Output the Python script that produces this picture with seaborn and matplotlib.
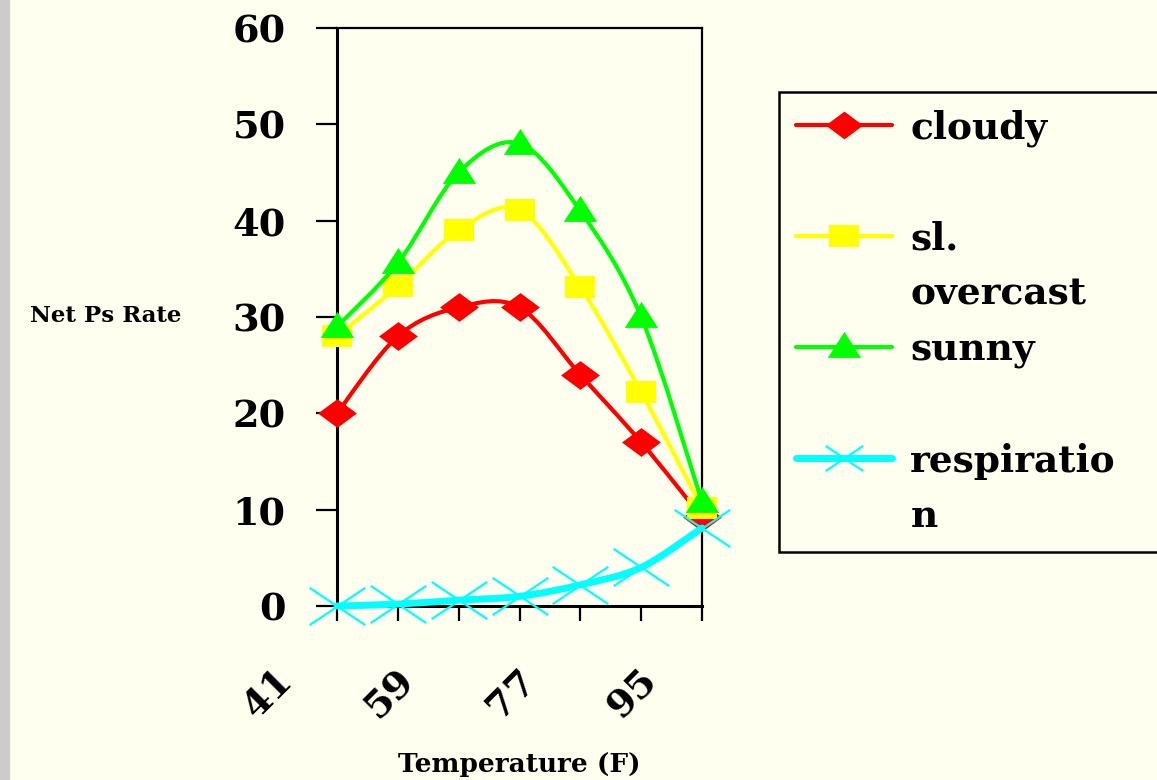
import numpy as np
import pandas as pd
import matplotlib
matplotlib.use('Agg')
import matplotlib.pyplot as plt
import seaborn as sns
from matplotlib.path import Path
from matplotlib.patches import PathPatch, Rectangle
from matplotlib.lines import Line2D
from matplotlib.transforms import ScaledTranslation

# data
temps = [41, 50, 59, 68, 77, 86, 95]
cloudy = [20, 28, 31, 31, 24, 17, 9.2]
overcast = [28, 33.2, 39, 41.1, 33.1, 22.2, 10.2]
sunny = [29, 35.6, 45, 48, 41, 30, 10.8]
respiration = [0, 0.2, 0.6, 1.0, 2.2, 4.0, 8.1]
series_labels = ['cloudy', 'sl.\novercast', 'sunny', 'respiratio\nn']

BG = '#FFFFF0'
sns.set_style('white')
plt.rcParams['font.family'] = ['DejaVu Serif']
plt.rcParams['font.weight'] = 'bold'
for key in ['text.color', 'axes.labelcolor', 'xtick.color', 'ytick.color']:
    plt.rcParams[key] = 'black'

# marker shapes (the original is stretched sideways)
diamond = Path([(0, 1), (1.35, 0), (0, -1), (-1.35, 0), (0, 1)], closed=True)
square = Path([(-1.36, -1), (1.36, -1), (1.36, 1), (-1.36, 1), (-1.36, -1)], closed=True)
triangle = Path([(-1.28, -0.8), (1.28, -0.8), (0, 1.2), (-1.28, -0.8)], closed=True)
cross = Path([(-1, -0.67), (1, 0.67), (-1, 0.67), (1, -0.67)],
             [Path.MOVETO, Path.LINETO, Path.MOVETO, Path.LINETO])

styles = [
    dict(color='#FF0000', marker=diamond, ms=28, lw=3.0, mfc='#FF0000', leg_ms=27),
    dict(color='#FFFF00', marker=square, ms=22, lw=3.0, mfc='#FFFF00', leg_ms=22),
    dict(color='#00FF00', marker=triangle, ms=24, lw=3.0, mfc='#00FF00', leg_ms=24),
    dict(color='#00FFFF', marker=cross, ms=40, lw=5.0, mfc='none', leg_ms=27),
]
all_series = [cloudy, overcast, sunny, respiration]


def smooth_path(xs, ys):
    pts = np.column_stack([xs, ys]).astype(float)
    n = len(pts)
    verts = [pts[0]]
    codes = [Path.MOVETO]
    for i in range(n - 1):
        p0 = pts[max(i - 1, 0)]
        p1 = pts[i]
        p2 = pts[i + 1]
        p3 = pts[min(i + 2, n - 1)]
        verts += [p1 + (p2 - p0) / 6, p2 - (p3 - p1) / 6, p2]
        codes += [Path.CURVE4] * 3
    return Path(verts, codes)


fig = plt.figure(figsize=(11.57, 7.80), dpi=100, facecolor=BG)
ax = fig.add_axes([337 / 1157, 1 - 606 / 780, 365 / 1157, 578 / 780])
ax.set_facecolor(BG)
fig.patches.append(Rectangle((0, 0), 9 / 1157, 1, transform=fig.transFigure,
                             color='#CCCCCC', zorder=0))

xpos = list(range(len(temps)))
for k, (vals, st) in enumerate(zip(all_series, styles)):
    ax.add_patch(PathPatch(smooth_path(xpos, vals), facecolor='none',
                           edgecolor=st['color'], lw=st['lw'],
                           capstyle='round', joinstyle='round',
                           zorder=3 + 2 * k, clip_on=False))
    sns.lineplot(x=xpos, y=vals, ax=ax, linestyle='none', marker=st['marker'],
                 markersize=st['ms'], markerfacecolor=st['mfc'],
                 markeredgecolor=st['color'],
                 markeredgewidth=1.6 if k == 3 else 0,
                 clip_on=False, zorder=4 + 2 * k)

ax.set_xlim(0, len(temps) - 1)
ax.set_ylim(0, 60)
ax.set_yticks(range(0, 61, 10))
ax.set_xticks(xpos)
ax.set_xticklabels([str(t) if i % 2 == 0 else '' for i, t in enumerate(temps)],
                   rotation=45, ha='right', va='top')
ax.tick_params(axis='y', direction='out', length=15, width=1.6, pad=22,
               labelsize=27.5, left=True)
ax.tick_params(axis='x', direction='out', length=11, width=1.6, pad=29,
               labelsize=27.5, bottom=True)
for lab in ax.get_xticklabels():
    lab.set_transform(lab.get_transform() +
                      ScaledTranslation(-0.37, 0, fig.dpi_scale_trans))

for side in ['left', 'bottom']:
    ax.spines[side].set_linewidth(2.2)
for side in ['top', 'right']:
    ax.spines[side].set_linewidth(1.6)
for sp in ax.spines.values():
    sp.set_color('black')

ax.set_ylabel('Net Ps Rate', rotation=0, fontsize=16.5, fontweight='bold',
              ha='center', va='center')
ax.yaxis.set_label_coords(-0.633, 0.502)
ax.set_xlabel('Temperature (F)', fontsize=19, fontweight='bold', va='center')
ax.xaxis.set_label_coords(0.5, -0.275)

# legend: two rows per entry, handle on the first row
blank = Line2D([], [], linestyle='none')
handles = []
labels = []
for lab, st in zip(series_labels, styles):
    h = Line2D([], [], color=st['color'], lw=st['lw'], marker=st['marker'],
               markersize=st['leg_ms'], markerfacecolor=st['mfc'],
               markeredgecolor=st['color'],
               markeredgewidth=1.6 if st['mfc'] == 'none' else 0)
    parts = lab.split('\n')
    handles += [h, blank]
    labels += [parts[0], parts[1] if len(parts) > 1 else ' ']
leg = fig.legend(handles, labels, loc='upper left',
                 bbox_to_anchor=(779 / 1157, 1 - 92 / 780 - 0.01, 400 / 1157, 0.01),
                 mode='expand', bbox_transform=fig.transFigure,
                 prop={'family': 'DejaVu Serif', 'weight': 'bold', 'size': 27},
                 frameon=True, fancybox=False, edgecolor='black',
                 facecolor=BG, framealpha=1, borderaxespad=0, borderpad=0.46,
                 handlelength=2.56, handletextpad=0.48, labelspacing=0.49)
leg.get_frame().set_linewidth(1.8)

fig.savefig('out.png', dpi=100, facecolor=BG)
